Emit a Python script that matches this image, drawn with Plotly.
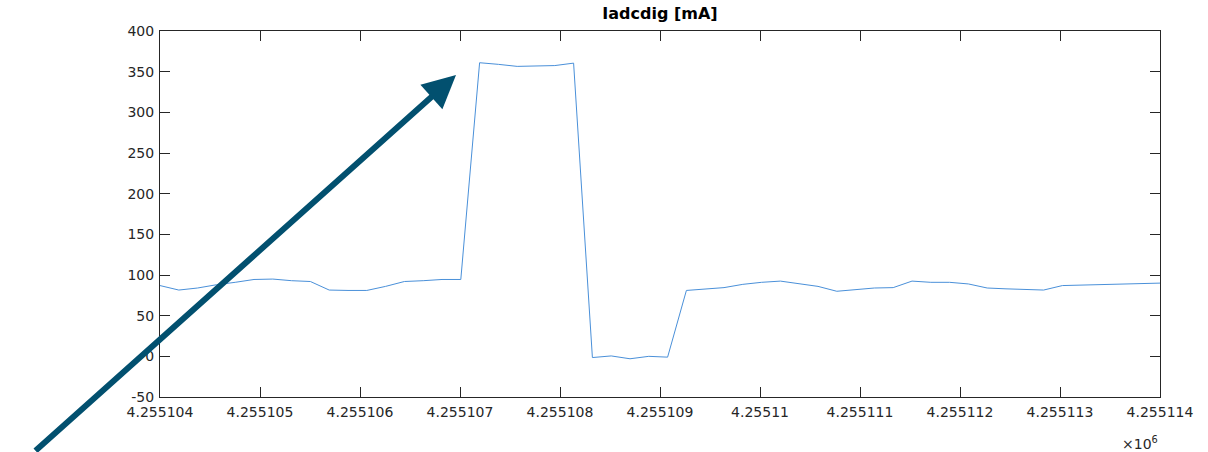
import plotly.graph_objects as go

# ---- data ----
x_base = 4255104
t_offset = [0.000, 0.188, 0.376, 0.564, 0.752, 0.940, 1.128, 1.316, 1.504, 1.692,
            1.880, 2.068, 2.256, 2.444, 2.632, 2.820, 3.008, 3.196, 3.384, 3.572,
            3.760, 3.948, 4.136, 4.324, 4.512, 4.700, 4.888, 5.076, 5.264, 5.452,
            5.640, 5.828, 6.016, 6.204, 6.392, 6.580, 6.768, 6.956, 7.144, 7.332,
            7.520, 7.708, 7.896, 8.084, 8.272, 8.460, 8.648, 8.836, 9.024, 9.212,
            9.400, 9.588, 9.776, 9.964, 10.152]
iadcdig = [87, 81.5, 84, 88, 91, 94.5, 95, 93, 92, 81.5,
           81, 81, 86, 92, 93, 94.5, 94.5, 361, 359, 356.5,
           357, 357.5, 360.5, -1.5, 0.5, -3, 0, -1, 81, 83,
           84.5, 88.5, 91, 92.5, 89.5, 86, 80, 82, 84, 84.5,
           92.5, 91, 91, 89, 84, 83, 82, 81.5, 87, 87.5,
           88, 88.8, 89.3, 89.8, 90.5]
x_tick_vals = [4255104, 4255105, 4255106, 4255107, 4255108, 4255109,
               4255110, 4255111, 4255112, 4255113, 4255114]
x_tick_text = ["4.255104", "4.255105", "4.255106", "4.255107", "4.255108", "4.255109",
               "4.25511", "4.255111", "4.255112", "4.255113", "4.255114"]
y_tick_vals = [-50, 0, 50, 100, 150, 200, 250, 300, 350, 400]
title_text = "Iadcdig [mA]"

x_vals = [x_base + t for t in t_offset]

AX = "#262626"
FONT = "DejaVu Sans"

fig = go.Figure()
fig.add_trace(go.Scatter(x=x_vals, y=iadcdig, mode="lines",
                         line=dict(color="#4a90d9", width=1),
                         showlegend=False, hoverinfo="skip"))

axis_common = dict(showline=True, linecolor=AX, linewidth=1, mirror="ticks",
                   ticks="inside", ticklen=10, tickwidth=1, tickcolor=AX,
                   showgrid=False, zeroline=False,
                   tickfont=dict(family=FONT, size=14, color=AX))

fig.update_layout(
    width=1208, height=452,
    margin=dict(l=160, r=48, t=31, b=55),
    paper_bgcolor="white", plot_bgcolor="white",
    title=dict(text="<b>" + title_text + "</b>", x=0.5, xref="paper", xanchor="center",
               y=1, yref="container", yanchor="top", pad=dict(t=8),
               font=dict(family=FONT, size=16, color="black")),
    xaxis=dict(range=[x_tick_vals[0], x_tick_vals[-1]], tickmode="array",
               tickvals=x_tick_vals, ticktext=x_tick_text, ticklabelstandoff=2,
               **axis_common),
    yaxis=dict(range=[y_tick_vals[0], y_tick_vals[-1]], tickmode="array",
               tickvals=y_tick_vals, ticktext=[str(v) for v in y_tick_vals],
               ticklabelstandoff=2, **axis_common),
)

fig.add_annotation(xref="paper", yref="paper", x=1.0, y=-0.125,
                   xanchor="right", yanchor="middle", showarrow=False,
                   text="×10<sup>6</sup>",
                   font=dict(family=FONT, size=14, color=AX))

# arrow annotation pointing at the peak
fig.add_annotation(xref="paper", yref="paper", x=0.296, y=0.8798,
                   axref="pixel", ayref="pixel", ax=-422, ay=378,
                   showarrow=True, arrowhead=2, arrowsize=1.1, arrowwidth=6,
                   arrowcolor="#02506f", standoff=0, text="")

fig.write_html("out.html")
